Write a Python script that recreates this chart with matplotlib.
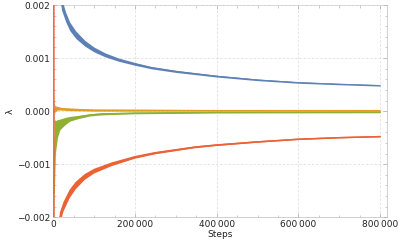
import matplotlib
matplotlib.use("Agg")
import matplotlib.pyplot as plt
import numpy as np
from matplotlib.ticker import MultipleLocator, FuncFormatter

# ---- data ----
blue_steps = [12000, 20000, 30000, 40000, 55000, 77000, 100000, 127000, 160000,
              200000, 240000, 300000, 400000, 500000, 600000, 700000, 800000]
blue_vals = [0.0026, 0.00202, 0.00178, 0.00160, 0.00144, 0.00128, 0.00116, 0.00106,
             0.00097, 0.00089, 0.00082, 0.00075, 0.00066, 0.00059, 0.00054, 0.00051, 0.000485]
blue_half = [0.00013, 0.00011, 0.00009, 0.00008, 0.00007, 0.000055, 0.000045, 0.000037,
             0.00003, 0.000026, 0.000022, 0.00002, 0.000017, 0.000015, 0.000014, 0.000013, 0.000013]

red_steps = [1200, 1700, 10000, 16000, 25000, 40000, 55000, 77000, 100000, 143000, 200000,
             250000, 347000, 400000, 500000, 600000, 700000, 800000]
red_vals = [0.01, -0.01, -0.0026, -0.00202, -0.00180, -0.00156, -0.00140, -0.00124,
            -0.00113, -0.00100, -0.00087, -0.00079, -0.00068, -0.00064, -0.00058,
            -0.00053, -0.00050, -0.00048]
red_half = [0.0, 0.0, 0.00013, 0.00011, 0.00009, 0.00008, 0.00007, 0.000055, 0.000045,
            0.000035, 0.000026, 0.000022, 0.000018, 0.000017, 0.000015, 0.000014,
            0.000013, 0.000013]

green_steps = [1800, 2200, 3000, 5000, 10000, 16000, 28000, 40000, 61000, 90000, 120000,
               200000, 400000, 800000]
green_upper = [-0.00005, -0.0001, -0.00015, -0.00018, -0.00016, -0.00015, -0.00012, -0.00010,
               -0.00008, -0.00005, -0.00003, -0.00002, -0.00001, -0.000005]
green_lower = [-0.003, -0.003, -0.0014, -0.0008, -0.0005, -0.00035, -0.00026, -0.00019,
               -0.00014, -0.00009, -0.00007, -0.00005, -0.000035, -0.00003]

orange_steps = [1500, 1800, 3000, 5000, 10000, 20000, 40000, 100000, 400000, 800000]
orange_upper = [0.0, 0.00028, 0.00012, 0.0001, 0.00009, 0.00007, 0.00006, 0.00004,
                0.00003, 0.00003]
orange_lower = [0.0, -0.0002, -0.00005, 0.0, 0.00002, 0.00002, 0.00001, 0.0, 0.0, 0.0]

x_ticks = [0, 200000, 400000, 600000, 800000]
y_ticks = [-0.002, -0.001, 0.0, 0.001, 0.002]

BLUE = "#5E81B5"
ORANGE = "#E19C24"
GREEN = "#8FB032"
RED = "#EB6235"

fig = plt.figure(figsize=(3.99, 2.44), dpi=100)
ax = fig.add_axes([0.1336, 0.1094, 0.970 - 0.1336, 0.9795 - 0.1094])

def band(steps, upper, lower, color, lw=0.6):
    s = np.array(steps, float)
    u = np.array(upper, float)
    l = np.array(lower, float)
    ax.fill_between(s, l, u, color=color, lw=0, zorder=3)
    ax.plot(s, (u + l) / 2, color=color, lw=lw, zorder=3)

b = np.array(blue_vals); bh = np.array(blue_half)
band(blue_steps, b + bh, b - bh, BLUE)
band(orange_steps, orange_upper, orange_lower, ORANGE)
band(green_steps, green_upper, green_lower, GREEN, lw=0.9)
r = np.array(red_vals); rh = np.array(red_half)
band(red_steps, r + rh, r - rh, RED, lw=1.1)

ax.set_xlim(0, 817000)
ax.set_ylim(-0.002, 0.002)

ax.xaxis.set_major_locator(plt.FixedLocator(x_ticks))
ax.yaxis.set_major_locator(plt.FixedLocator(y_ticks))
ax.xaxis.set_minor_locator(MultipleLocator(50000))
ax.yaxis.set_minor_locator(MultipleLocator(0.0002))

def xfmt(v, pos):
    v = int(round(v))
    if v == 0:
        return "0"
    return f"{v:,}".replace(",", "\u2009")

def yfmt(v, pos):
    if abs(v) < 1e-12:
        return "0.000"
    s = f"{v:.3f}"
    if v < 0:
        s = "\u2212" + s[1:]
    return s

ax.xaxis.set_major_formatter(FuncFormatter(xfmt))
ax.yaxis.set_major_formatter(FuncFormatter(yfmt))

ax.grid(True, which="major", color="#e0e0e0", ls=(0, (3, 2)), lw=0.6, zorder=0)
for sp in ax.spines.values():
    sp.set_color("#d0d0d0")
    sp.set_linewidth(0.7)
    sp.set_zorder(1)

ax.tick_params(which="both", direction="in", top=True, right=True,
               color="#b8b8b8", labelsize=6.5, labelcolor="#222222", pad=2)
ax.tick_params(which="major", length=3, width=0.6)
ax.tick_params(which="minor", length=1.8, width=0.5)

ax.set_xlabel("Steps", fontsize=6.5, color="#222222", labelpad=1)
ax.set_ylabel("λ", fontsize=6.5, color="#222222", labelpad=2)

fig.savefig("out.png", dpi=100)
